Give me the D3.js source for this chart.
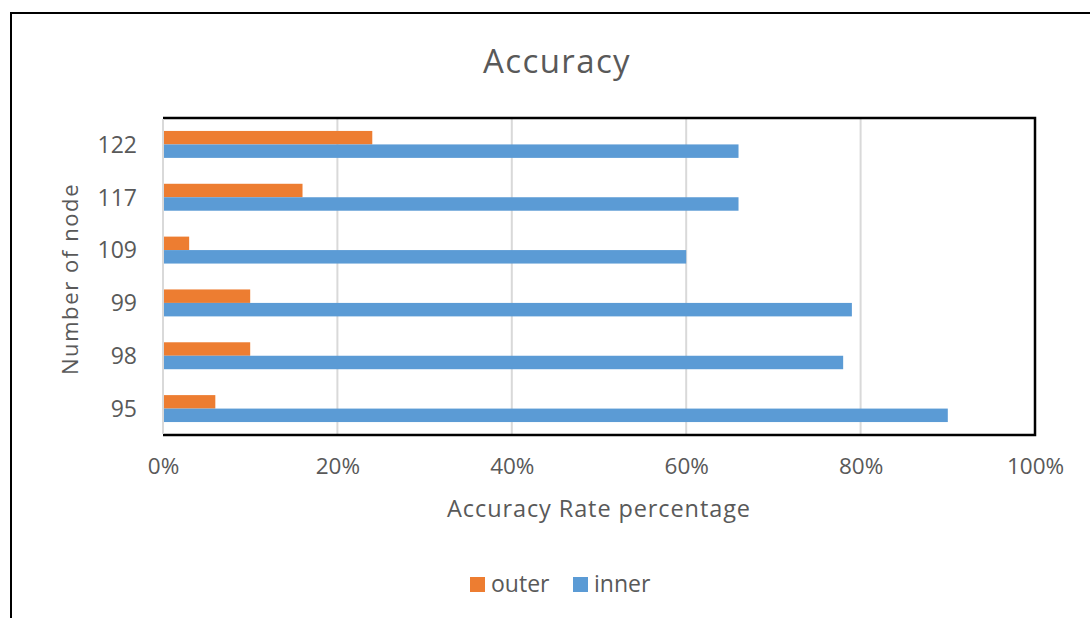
<!DOCTYPE html>
<html>
<head>
<meta charset="utf-8">
<script src="https://cdn.jsdelivr.net/npm/d3@7"></script>
<style>
  body { margin: 0; background: #fff; }
  svg text { font-family: "Open Sans", sans-serif; fill: #595959; }
</style>
</head>
<body>
<div class="canvas"></div>
<script>
const nodes = ["122", "117", "109", "99", "98", "95"];
const outer = [0.24, 0.16, 0.03, 0.10, 0.10, 0.06];
const inner = [0.66, 0.66, 0.60, 0.79, 0.78, 0.90];
const xTicks = [0, 0.2, 0.4, 0.6, 0.8, 1.0];
const seriesNames = ["outer", "inner"];
const seriesColors = ["#ED7D31", "#5B9BD5"];

const WIDTH = 1090,
  HEIGHT = 618,
  PLOT = { left: 163, right: 1035, top: 118, bottom: 435 };

const svg = d3
  .select(".canvas")
  .append("svg")
  .attr("width", WIDTH)
  .attr("height", HEIGHT);

// outer chart frame (right and bottom run off the page)
svg
  .append("rect")
  .attr("x", 11)
  .attr("y", 13)
  .attr("width", 1200)
  .attr("height", 800)
  .attr("fill", "none")
  .attr("stroke", "#000")
  .attr("stroke-width", 2);

const x = d3.scaleLinear().domain([0, 1]).range([PLOT.left, PLOT.right]);
const y = d3
  .scaleBand()
  .domain(nodes)
  .range([PLOT.top, PLOT.bottom])
  .paddingInner(0.49)
  .paddingOuter(0.245);
const sub = d3.scaleBand().domain(seriesNames).range([0, y.bandwidth()]);

// gridlines
svg
  .append("g")
  .selectAll("line")
  .data(xTicks.slice(1, -1))
  .enter()
  .append("line")
  .attr("x1", (d) => x(d))
  .attr("x2", (d) => x(d))
  .attr("y1", PLOT.top)
  .attr("y2", PLOT.bottom)
  .attr("stroke", "#D9D9D9")
  .attr("stroke-width", 2);

// bars
const rows = nodes.map((n, i) => ({ node: n, values: [outer[i], inner[i]] }));
const group = svg
  .append("g")
  .selectAll("g")
  .data(rows)
  .enter()
  .append("g")
  .attr("transform", (d) => `translate(0, ${y(d.node)})`);

group
  .selectAll("rect")
  .data((d) => d.values.map((v, i) => ({ key: seriesNames[i], value: v, color: seriesColors[i] })))
  .enter()
  .append("rect")
  .attr("x", x(0))
  .attr("y", (d) => sub(d.key))
  .attr("width", (d) => x(d.value) - x(0))
  .attr("height", sub.bandwidth())
  .attr("fill", (d) => d.color);

// plot frame: black top/right/bottom, gray vertical axis on the left
svg
  .append("path")
  .attr("d", `M${PLOT.left},${PLOT.top}H${PLOT.right}V${PLOT.bottom}H${PLOT.left}`)
  .attr("fill", "none")
  .attr("stroke", "#000")
  .attr("stroke-width", 2.5);
svg
  .append("line")
  .attr("x1", x(0))
  .attr("x2", x(0))
  .attr("y1", PLOT.top + 1)
  .attr("y2", PLOT.bottom - 1)
  .attr("stroke", "#D9D9D9")
  .attr("stroke-width", 2);

// axes labels
const xAxis = svg
  .append("g")
  .attr("transform", `translate(0, ${PLOT.bottom + 12})`)
  .call(d3.axisBottom(x).tickValues(xTicks).tickFormat(d3.format(".0%")).tickSize(0))
  .call((g) => g.select(".domain").remove());
xAxis
  .selectAll("text")
  .attr("font-size", 22.5)
  .attr("dy", "1.05em")
  .attr("font-family", null)
  .attr("fill", null);

const yAxis = svg
  .append("g")
  .attr("transform", `translate(${PLOT.left - 23}, 1)`)
  .call(d3.axisLeft(y).tickSize(0))
  .call((g) => g.select(".domain").remove());
yAxis
  .selectAll("text")
  .attr("font-size", 23)
  .attr("font-family", null)
  .attr("fill", null);

// titles
svg
  .append("text")
  .attr("x", 557)
  .attr("y", 73)
  .attr("text-anchor", "middle")
  .attr("font-size", 33)
  .attr("letter-spacing", 1.4)
  .text("Accuracy");

svg
  .append("text")
  .attr("x", 599)
  .attr("y", 517)
  .attr("text-anchor", "middle")
  .attr("font-size", 23.5)
  .attr("letter-spacing", 0.9)
  .text("Accuracy Rate percentage");

svg
  .append("text")
  .attr("transform", "translate(78, 279) rotate(-90)")
  .attr("text-anchor", "middle")
  .attr("font-size", 22)
  .attr("letter-spacing", 1.6)
  .text("Number of node");

// legend
const legendX = [470, 573];
const legendItem = svg
  .append("g")
  .selectAll("g")
  .data(seriesNames)
  .enter()
  .append("g")
  .attr("transform", (d, i) => `translate(${legendX[i]}, 577)`);

legendItem
  .append("rect")
  .attr("width", 15)
  .attr("height", 15)
  .attr("fill", (d, i) => seriesColors[i]);

legendItem
  .append("text")
  .attr("x", 21)
  .attr("y", 15)
  .attr("font-size", 23)
  .text((d) => d);
</script>
</body>
</html>
